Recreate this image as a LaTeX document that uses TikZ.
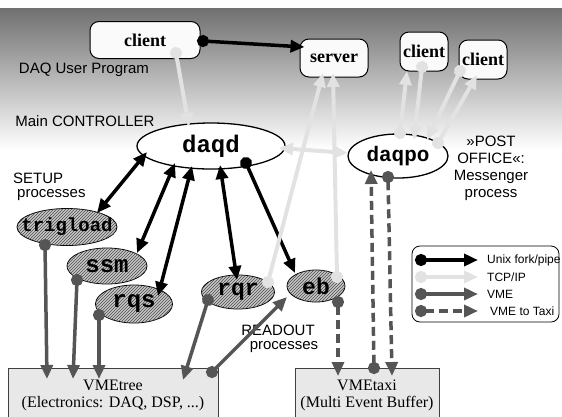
\documentclass[tikz,border=0pt]{standalone}
\usepackage{fontspec}
\setmainfont{Liberation Serif}
\setsansfont{Liberation Sans}
\setmonofont{Liberation Mono}
\usetikzlibrary{arrows.meta,shapes.geometric,patterns,calc}
\definecolor{tcpgray}{HTML}{E2E2E2}
\definecolor{vmegray}{HTML}{555555}
\definecolor{boxgray}{HTML}{E8E8E8}
\definecolor{hatchgray}{HTML}{C8C8C8}
\tikzset{
  tri/.tip={Triangle[length=14pt,width=12pt]},
  blob/.tip={Circle[length=12pt]},
  prog/.style={draw=black, line width=1pt, fill=black!2, rounded corners=9pt, inner sep=0pt,
    font=\fontsize{18}{20}\selectfont\bfseries},
  mainell/.style={ellipse, draw=black, line width=1.3pt, fill=white, inner sep=0pt,
    font=\fontsize{24}{24}\selectfont\ttfamily\bfseries},
  proc/.style={ellipse, draw=black, line width=0.8pt, fill=hatchgray,
    postaction={pattern=north east lines, pattern color=black!70}, inner sep=0pt,
    font=\fontsize{24}{24}\selectfont\ttfamily\bfseries},
  hwbox/.style={rectangle, draw=black!75, line width=0.8pt, fill=boxgray, inner sep=0pt},
  hwtext/.style={font=\fontsize{16}{19}\selectfont, inner sep=0pt},
  lbl/.style={font=\fontsize{15}{17}\selectfont\sffamily, inner sep=0pt},
  lgtext/.style={font=\fontsize{12}{14}\selectfont\sffamily, inner sep=0pt, anchor=west},
  pipe/.style={line width=3.5pt, draw=black},
  tcp/.style={line width=4pt, draw=tcpgray},
  vme/.style={line width=3.5pt, draw=vmegray},
  taxi/.style={vme, dash pattern=on 9pt off 5pt},
  dotfrom/.style={{blob}-{tri}, shorten <=-6pt},
  both/.style={{tri}-{tri}},
}
\begin{document}
\begin{tikzpicture}[x=1pt,y=-1pt]
\useasboundingbox (0,0) rectangle (562,416);
\shade[top color=black!56, bottom color=white] (0,8) rectangle (562,150);

% program boxes
\node[prog, minimum width=110pt, minimum height=37pt] (clientA) at (145,40) {client};
\node[prog, minimum width=68pt, minimum height=38pt] (server) at (334,58) {server};
\node[prog, minimum width=48pt, minimum height=39pt] (clientB) at (424,51.5) {client};
\node[prog, minimum width=48pt, minimum height=39pt] (clientC) at (483,59.5) {client};

% labels
\node[lbl] (dup) at (84,70) {DAQ User Program};
\node[lbl] (mc) at (85,121) {Main CONTROLLER};
\node[lbl, anchor=west] (setup) at (13,178) {SETUP};
\node[lbl, anchor=west] (setupp) at (17,195) {processes};
\node[lbl] (ro) at (278,330) {READOUT};
\node[lbl] (rop) at (284,347) {processes};
\node[lbl, align=center] (po) at (491,168) {»POST\\OFFICE«:\\Messenger\\process};

% main processes
\node[mainell, minimum width=148pt, minimum height=46pt] (daqd) at (211,146) {\makebox[0pt]{daqd}};
\node[mainell, minimum width=100pt, minimum height=44pt, font=\fontsize{21}{21}\selectfont\ttfamily\bfseries] (daqpo) at (398,156) {\makebox[0pt]{daqpo}};

% sub processes
\node[proc, minimum width=100pt, minimum height=37pt, font=\fontsize{19}{19}\selectfont\ttfamily\bfseries] (trig) at (67,227) {\makebox[0pt]{trigload}};
\node[proc, minimum width=80pt, minimum height=36pt] (ssm) at (107,266) {\makebox[0pt]{ssm}};
\node[proc, minimum width=77pt, minimum height=38pt] (rqs) at (134,304) {\makebox[0pt]{rqs}};
\node[proc, minimum width=73pt, minimum height=34pt, font=\fontsize{23}{23}\selectfont\ttfamily\bfseries] (rqr) at (238,292) {\makebox[0pt]{rqr}};
\node[proc, minimum width=58pt, minimum height=32pt, font=\fontsize{23}{23}\selectfont\ttfamily\bfseries] (eb) at (316,286) {\makebox[0pt]{eb}};

% hardware boxes
\node[hwbox, minimum width=210pt, minimum height=54pt] (tree) at (113,395) {};
\node[hwtext] (treeA) at (113,385) {VMEtree};
\node[hwtext] (treeB) at (113,404) {(Electronics: DAQ, DSP, ...)};
\node[hwbox, minimum width=144pt, minimum height=54pt] (taxibox) at (367,395) {};
\node[hwtext] (taxiA) at (367,385) {VMEtaxi};
\node[hwtext] (taxiB) at (367,404) {(Multi Event Buffer)};

% legend
\node[draw=black, line width=0.8pt, rounded corners=8pt, fill=white, minimum width=147pt, minimum height=76pt] (legend) at (485.5,284) {};
\coordinate (l1s) at (421,260); \coordinate (l1e) at (478,260);
\coordinate (l2s) at (421,277); \coordinate (l2e) at (478,277);
\coordinate (l3s) at (421,294); \coordinate (l3e) at (478,294);
\coordinate (l4s) at (421,311); \coordinate (l4e) at (478,311);
\draw[pipe, dotfrom] (l1s) -- (l1e);
\draw[tcp, dotfrom] (l2s) -- (l2e);
\draw[vme, dotfrom] (l3s) -- (l3e);
\draw[taxi, dotfrom] (l4s) -- (l4e);
\node[lgtext] (t1) at (487,260) {Unix fork/pipe};
\node[lgtext] (t2) at (487,277) {TCP/IP};
\node[lgtext] (t3) at (487,294) {VME};
\node[lgtext] (t4) at (490,311) {VME to Taxi};

% Unix fork/pipe
\draw[pipe, dotfrom] ($(clientA)+(58,1)$) -- ($(server.west)+(5,-11)$);
\draw[pipe, both] ($(daqd)+(-64,6)$) -- ($(trig)+(30,-14)$);
\draw[pipe, both] ($(daqd)+(-36,17)$) -- ($(ssm)+(30,-13)$);
\draw[pipe, both] ($(daqd)+(-19,20)$) -- ($(rqs)+(24,-8)$);
\draw[pipe, both] ($(daqd)+(9,19)$) -- ($(rqr)+(-1,-12)$);
\draw[pipe, dotfrom] ($(daqd)+(35,17)$) -- ($(eb)+(-21,-13)$);

% TCP/IP
\draw[tcp, dotfrom] ($(clientA)+(31,13)$) -- ($(daqd)+(-22,-19)$);
\draw[tcp, both] ($(daqd)+(68,2)$) -- ($(daqpo)+(-50,-3)$);
\draw[tcp, dotfrom] ($(rqr)+(30,-10)$) -- ($(server)+(-11,15)$);
\draw[tcp, dotfrom] ($(eb)+(21,-9)$) -- ($(server)+(-1,15)$);
\draw[tcp, dotfrom] ($(daqpo)+(2,-23)$) -- ($(clientB)+(-17,19.5)$);
\draw[tcp, dotfrom] ($(clientB)+(-2,15.5)$) -- ($(daqpo)+(16,-16)$);
\draw[tcp, dotfrom] ($(clientC)+(-23,11.5)$) -- ($(daqpo)+(29,-16)$);
\draw[tcp, dotfrom] ($(daqpo)+(40,-13)$) -- ($(clientC)+(-6,15.5)$);

% VME
\draw[vme, dotfrom] ($(trig)+(-22,18)$) -- ($(tree)+(-66,-16)$);
\draw[vme, dotfrom] ($(ssm)+(-30,14)$) -- ($(tree)+(-40,-16)$);
\draw[vme, dotfrom] ($(rqs)+(-35,11)$) -- ($(tree)+(-14,-16)$);
\draw[vme, dotfrom] ($(rqr)+(-30,8)$) -- ($(tree)+(70,-15)$);
\draw[vme, dotfrom] ($(tree)+(99,-23)$) -- ($(eb)+(-29,11)$);

% VME to Taxi
\draw[taxi, dotfrom] ($(eb)+(22,16)$) -- ($(taxibox)+(-29,-19)$);
\draw[taxi, dotfrom] ($(taxibox)+(7,-27)$) -- ($(daqpo)+(-27,14)$);
\draw[taxi, dotfrom] ($(daqpo)+(-10,21)$) -- ($(taxibox)+(25,-19)$);
\end{tikzpicture}
\end{document}
